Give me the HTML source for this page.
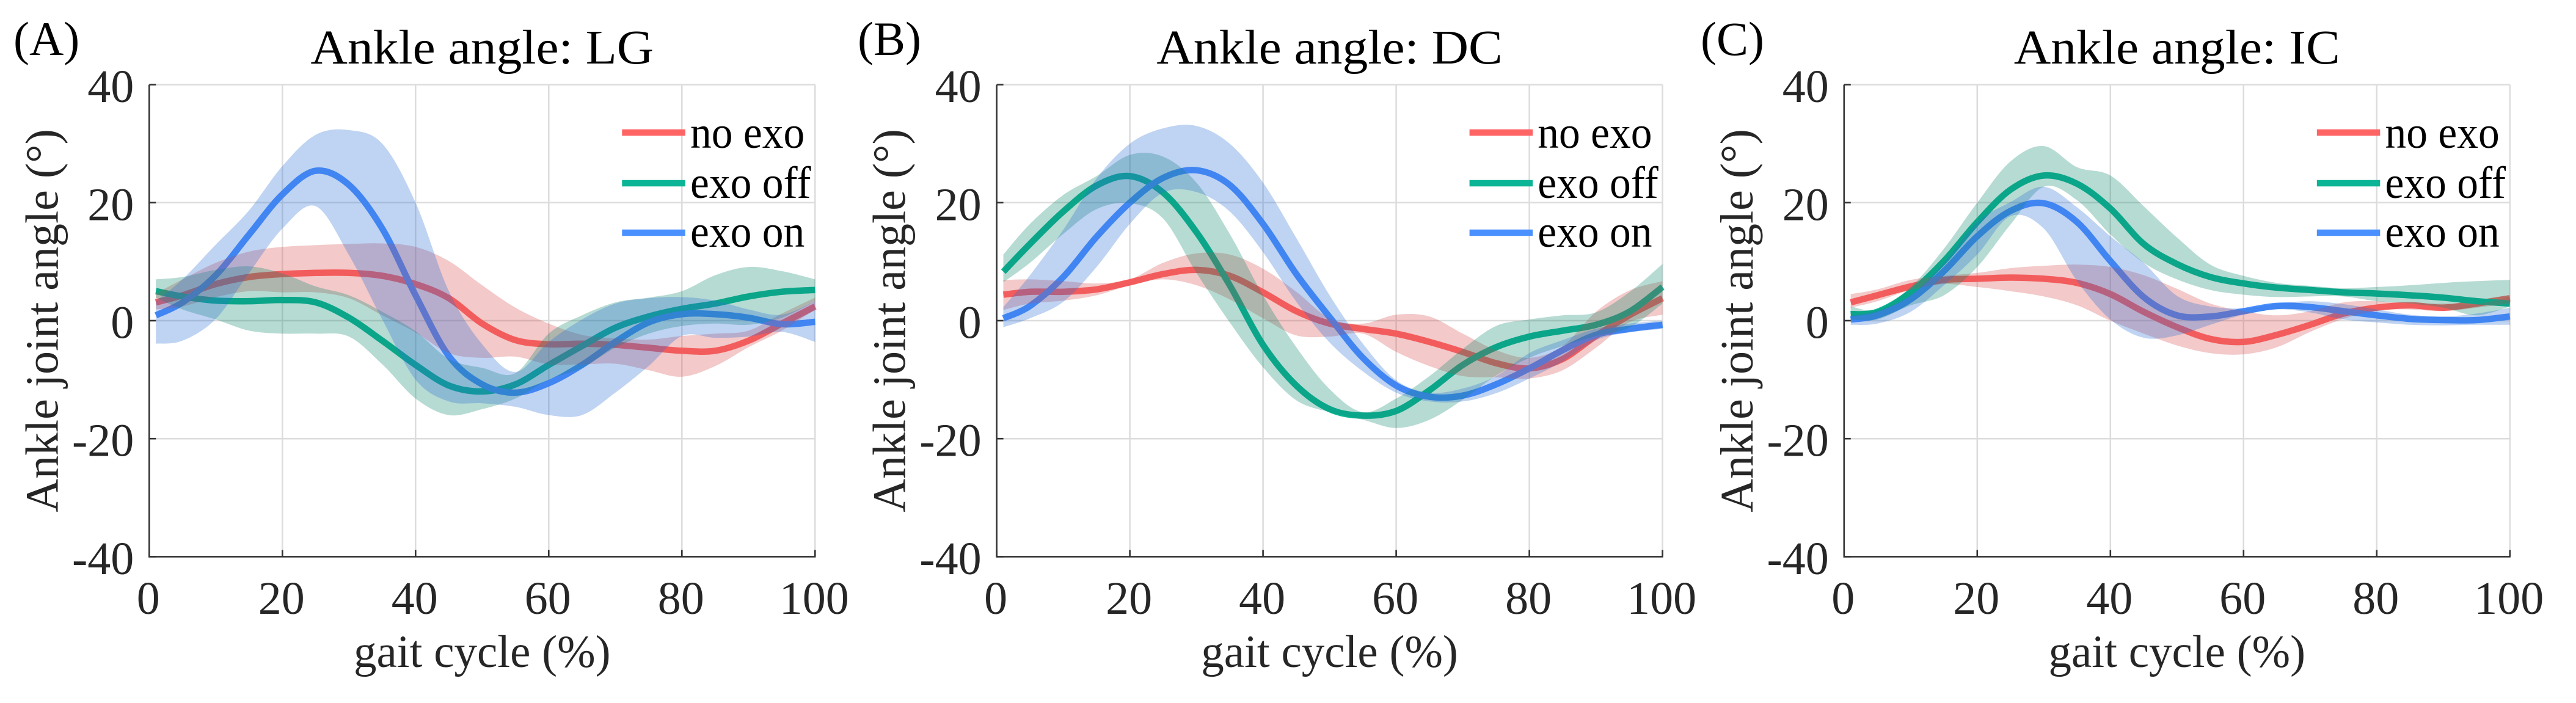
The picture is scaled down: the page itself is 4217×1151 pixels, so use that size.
<!DOCTYPE html>
<html lang="en">
<head>
<meta charset="utf-8">
<title>Ankle angle across gait cycle</title>
<style>
html,body{margin:0;padding:0;background:#fff;}
#figure{display:block;width:4217px;height:1151px;font-family:"Liberation Serif","DejaVu Serif",serif;}
</style>
</head>
<body>
<svg id="figure" xmlns="http://www.w3.org/2000/svg" width="4217" height="1151" viewBox="0 0 4217 1151"></svg>
<script>
// ---------- shared axis data ----------
const gaitPercent = [1,5,10,15,20,25,30,35,40,45,50,55,60,65,70,75,80,85,90,95,100];
const xTickValues = [0,20,40,60,80,100];
const yTickValues = [40,20,0,-20,-40];
const seriesNames = ['no exo','exo off','exo on'];

// ---------- panel A: LG ----------
const lgNoExoMean  = [3.1,4.3,6.2,7.4,7.9,8.1,8.1,7.6,6.2,3.8,-0.5,-3.3,-4,-3.9,-4.1,-4.6,-5.1,-5.1,-3.4,-0.5,2.4];
const lgNoExoUpper = [4.6,7,9.8,11.7,12.5,12.8,13,13.1,12.5,10.1,6,2.2,-0.5,-2.4,-3,-3.2,-2.6,-2.2,-1.7,1.2,3.9];
const lgNoExoLower = [1.9,2.4,4,5,4.8,4.8,3.8,0.9,-2,-5.5,-6.3,-6.1,-7.4,-7.4,-7.3,-8.4,-9.5,-7.7,-4.5,-1.7,1.9];
const lgOffMean    = [5,4.1,3.4,3.3,3.5,3.1,0.5,-3.4,-7.5,-11,-12,-10.8,-7.5,-4.3,-1.2,0.7,2,2.9,4.1,4.9,5.2];
const lgOffUpper   = [7,7.4,8.6,9.2,8,5.8,4.3,1.5,-1.8,-6.5,-8,-8.9,-2.2,0.9,3.1,3.9,5,7.7,9.1,8.4,7];
const lgOffLower   = [3.9,1.9,0.2,-1.7,-2.2,-2.2,-2.7,-7.4,-13.2,-16,-15,-13.2,-10,-8,-4.6,-2.2,-0.9,-0.5,-0.7,0.5,3.3];
const lgOnMean     = [0.9,3.1,7.7,14.6,21.4,25.4,23,15.6,4.3,-6,-10.8,-12.2,-10.6,-7.5,-3.6,-0.3,1.1,1.1,0.5,-0.6,-0.2];
const lgOnUpper    = [3.3,7,12.9,18.7,26.2,31.5,32.3,30,20,5,-4,-8.7,-3.6,0.2,2.9,3.8,4,3.4,1.9,1,3.3];
const lgOnLower    = [-3.9,-3.4,0.3,8.1,15.6,19.4,11.1,0.2,-10,-13.7,-14,-14.6,-16,-16,-12.2,-7.7,-2.6,-2.9,-2.7,-1.9,-3.6];

// ---------- panel B: DC ----------
const dcNoExoMean  = [4.4,4.9,4.9,5.3,6.5,7.9,8.6,7.6,4.8,1.6,-0.5,-1.4,-2.2,-3.6,-5.3,-7.2,-8.1,-6.5,-2.6,0.9,3.8];
const dcNoExoUpper = [6.9,7,6.7,6.3,7,9.8,11.4,11.2,8.8,4.9,0.4,-0.5,1,0.7,-2.2,-5,-6.3,-4.3,1.5,5.1,6.7];
const dcNoExoLower = [1.8,2.9,3.4,4.3,6,7,6,3.6,0.4,-2.5,-2.7,-2.2,-5.3,-7.7,-9.4,-9.6,-9.8,-8.4,-4.6,-0.3,1];
const dcOffMean    = [8.3,13,18.5,22.9,24.5,21.7,15,6,-4.1,-11,-15,-16.1,-15.3,-11.8,-7.5,-4.5,-2.7,-1.7,-0.7,1.5,5.7];
const dcOffUpper   = [11.2,16.4,21.3,24.5,28.1,27.8,23.4,14.7,4.3,-4.5,-11.6,-15.5,-13.2,-9.4,-4.8,-0.9,0.2,0.9,1.4,4.8,9.6];
const dcOffLower   = [6.5,9.8,14.7,18.9,19.9,17.3,8.1,-0.3,-7.9,-13.5,-15.5,-16.8,-18.2,-16.8,-13.4,-9.3,-6.3,-4.3,-2.6,-1.2,2.9];
const dcOnMean     = [0.4,2.5,7.4,14.2,20,24.2,25.5,23,16.4,7.9,0.6,-6.3,-11,-12.9,-12.7,-10.8,-8.1,-5,-2.4,-1.4,-0.7];
const dcOnUpper    = [2.3,7.7,15.4,24.1,30,32.6,33,30,23.4,14,4.3,-3.9,-10.1,-12.2,-11.5,-9.4,-5.5,-3.3,-1.4,-0.5,0];
const dcOnLower    = [-1.1,0.4,3.2,9.1,16.4,21.7,21.8,18.5,11.6,3.2,-3.7,-8.6,-12.2,-13.7,-13.7,-12.3,-9.8,-6.9,-3.3,-2,-1.4];

// ---------- panel C: IC ----------
const icNoExoMean  = [3.1,4.3,5.8,6.9,7.1,7.3,7.1,6.4,4.5,1.5,-1.1,-3.1,-3.6,-2.4,-0.7,1.2,2.2,2.6,2.2,2.9,3.8];
const icNoExoUpper = [4.5,5.3,6.9,7.6,8.1,8.9,9.3,9.5,9.1,7.7,5.4,2.9,1.6,0.9,1.6,3.1,3.3,2.9,2.9,2.8,4.1];
const icNoExoLower = [2.2,3.3,5.2,6.2,5.7,5,4.1,2.6,0,-2.2,-4.2,-5.5,-5.7,-4.5,-1.9,0.3,1.7,1.9,1.6,2.2,2.9];
const icOffMean    = [1.1,1.5,4.8,10.1,16.7,22.2,24.6,23.2,19,13,9.6,7.4,6.3,5.6,5.2,4.8,4.6,4.3,3.9,3.3,2.9];
const icOffUpper   = [2.4,1.9,5.7,12.2,20,27,29.6,26,24.6,19.4,14.1,9.5,7.6,6.4,5.9,5.5,5.7,6,6.4,6.7,6.9];
const icOffLower   = [0.2,0.2,2.6,4.3,9.1,16.3,22.7,20.4,14.6,9.8,7,5.2,4.4,4,4.1,4.1,3.3,2.9,2.2,0.9,2.4];
const icOnMean     = [0.2,0.9,3.6,8.4,14.3,18.6,19.9,16.7,10.1,4,0.9,0.7,1.6,2.5,2.3,1.6,0.9,0.3,0.1,0.1,0.7];
const icOnUpper    = [0.9,1.7,4.3,9.8,16.7,20.1,22.7,19.2,14.3,9.8,4.2,2.4,2.1,2.9,3.3,2.8,1.9,1,0.7,1.2,2.2];
const icOnLower    = [-0.7,-0.5,1.5,6,11.2,17.7,15.6,6.7,0.2,-2.9,-2.5,-0.7,1,1.9,1.4,0.2,-0.3,-0.7,-0.8,-0.7,-0.7];

// ---------- layout and style ----------
const SVG_NS = 'http://www.w3.org/2000/svg';
const figure = document.getElementById('figure');
const plotWidth = 1090, yZero = 525, yUnit = 9.66;
const plotTop = yZero - 40 * yUnit, plotBottom = yZero + 40 * yUnit;
const lineColors = ['#ff6464','#0bb495','#4a90ff'];
const fillColors = ['#d74b4b','#0c876c','#2a6cd4'];
const fillAlpha = 0.3;
const legendYs = [217,300,381];
const legendBaselines = [242,324,404];

const panels = [
  {id:'lg', tag:'(A)', tagX:22, title:'Ankle angle: LG', left:244.3,
   mean:[lgNoExoMean,lgOffMean,lgOnMean], upper:[lgNoExoUpper,lgOffUpper,lgOnUpper], lower:[lgNoExoLower,lgOffLower,lgOnLower]},
  {id:'dc', tag:'(B)', tagX:1404, title:'Ankle angle: DC', left:1631.6,
   mean:[dcNoExoMean,dcOffMean,dcOnMean], upper:[dcNoExoUpper,dcOffUpper,dcOnUpper], lower:[dcNoExoLower,dcOffLower,dcOnLower]},
  {id:'ic', tag:'(C)', tagX:2784, title:'Ankle angle: IC', left:3018.8,
   mean:[icNoExoMean,icOffMean,icOnMean], upper:[icNoExoUpper,icOffUpper,icOnUpper], lower:[icNoExoLower,icOffLower,icOnLower]}
];

function make(tag, parent, attrs) {
  const el = document.createElementNS(SVG_NS, tag);
  for (const k in attrs) el.setAttribute(k, attrs[k]);
  parent.appendChild(el);
  return el;
}
function slug(s) { return s.replace(/\s+/g, '-'); }

// Smooth path through the sampled points (Catmull-Rom converted to cubic Bezier).
function curveSegments(pts) {
  let d = '';
  for (let i = 0; i < pts.length - 1; i++) {
    const p0 = pts[Math.max(i - 1, 0)], p1 = pts[i], p2 = pts[i + 1], p3 = pts[Math.min(i + 2, pts.length - 1)];
    const c1x = p1[0] + (p2[0] - p0[0]) / 6, c1y = p1[1] + (p2[1] - p0[1]) / 6;
    const c2x = p2[0] - (p3[0] - p1[0]) / 6, c2y = p2[1] - (p3[1] - p1[1]) / 6;
    d += 'C' + c1x.toFixed(1) + ' ' + c1y.toFixed(1) + ' ' + c2x.toFixed(1) + ' ' + c2y.toFixed(1) + ' ' + p2[0].toFixed(1) + ' ' + p2[1].toFixed(1);
  }
  return d;
}

panels.forEach(function (panel) {
  const xScale = function (p) { return panel.left + p / 100 * plotWidth; };
  const yScale = function (v) { return yZero - v * yUnit; };
  const points = function (values) { return gaitPercent.map(function (p, i) { return [xScale(p), yScale(values[i])]; }); };

  const g = make('g', figure, {});
  
  

  const tag = make('text', g, {x: panel.tagX, y: 90, 'font-size': 78, fill: '#000'});
  tag.textContent = panel.tag;
  
  

  const title = make('text', g, {x: 0, y: 0, 'font-size': 80, fill: '#000', 'text-anchor': 'middle', transform: 'translate(' + xScale(50) + ' 104) scale(1.045 1)'});
  title.textContent = panel.title;
  
  

  // grid
  yTickValues.slice(0, 4).forEach(function (v) {
    const line = make('line', g, {x1: panel.left, x2: xScale(100), y1: yScale(v), y2: yScale(v), stroke: '#dcdcdc', 'stroke-width': 2.5});
    
    
  });
  xTickValues.slice(1).forEach(function (v) {
    const line = make('line', g, {x1: xScale(v), x2: xScale(v), y1: plotTop, y2: plotBottom, stroke: '#dcdcdc', 'stroke-width': 2.5});
    
    
  });

  // mean curves (drawn first: the translucent bands overlay them)
  panel.mean.forEach(function (values, s) {
    const pts = points(values);
    const path = make('path', g, {d: 'M' + pts[0][0].toFixed(1) + ' ' + pts[0][1].toFixed(1) + curveSegments(pts), fill: 'none', stroke: lineColors[s], 'stroke-width': 10.5});
    
    
  });

  // bands
  panel.upper.forEach(function (values, s) {
    const up = points(values);
    const low = points(panel.lower[s]).reverse();
    const d = 'M' + up[0][0].toFixed(1) + ' ' + up[0][1].toFixed(1) + curveSegments(up) +
      'L' + low[0][0].toFixed(1) + ' ' + low[0][1].toFixed(1) + curveSegments(low) + 'Z';
    const band = make('path', g, {d: d, fill: fillColors[s], 'fill-opacity': fillAlpha, stroke: 'none'});
    
    
  });

  // axes
  const yAxis = make('line', g, {x1: panel.left, x2: panel.left, y1: plotTop, y2: plotBottom + 1.2, stroke: '#333', 'stroke-width': 2.6});
  
  
  const xAxis = make('line', g, {x1: panel.left - 1.2, x2: xScale(100) + 1, y1: plotBottom, y2: plotBottom, stroke: '#333', 'stroke-width': 2.6});
  
  

  yTickValues.forEach(function (v) {
    const tick = make('line', g, {x1: panel.left, x2: panel.left + 11, y1: yScale(v), y2: yScale(v), stroke: '#333', 'stroke-width': 2.6});
    
    
    const label = make('text', g, {x: panel.left - 25, y: yScale(v) + 28.5, 'font-size': 76, fill: '#262626', 'text-anchor': 'end'});
    label.textContent = String(v);
    
    
  });
  xTickValues.forEach(function (v) {
    const tick = make('line', g, {x1: xScale(v), x2: xScale(v), y1: plotBottom, y2: plotBottom - 11, stroke: '#333', 'stroke-width': 2.6});
    
    
    const label = make('text', g, {x: xScale(v) - 1.5, y: 1005, 'font-size': 76, fill: '#262626', 'text-anchor': 'middle'});
    label.textContent = String(v);
    
    
  });

  const xTitle = make('text', g, {x: xScale(50), y: 1092, 'font-size': 75, fill: '#262626', 'text-anchor': 'middle'});
  xTitle.textContent = 'gait cycle (%)';
  
  

  const yTitleX = panel.left - 150;
  const yTitle = make('text', g, {x: yTitleX, y: 525, 'font-size': 76, fill: '#262626', 'text-anchor': 'middle', transform: 'rotate(-90 ' + yTitleX + ' 525)'});
  yTitle.textContent = 'Ankle joint angle (°)';
  
  

  // legend
  const legend = make('g', g, {});
  
  
  seriesNames.forEach(function (name, s) {
    const key = make('line', legend, {x1: panel.left + 774, x2: panel.left + 877.5, y1: legendYs[s], y2: legendYs[s], stroke: lineColors[s], 'stroke-width': 10.5});
    
    
    const text = make('text', legend, {x: 0, y: 0, 'font-size': 69.5, fill: '#000', transform: 'translate(' + (panel.left + 885.7) + ' ' + legendBaselines[s] + ') scale(1 1.07)'});
    text.textContent = name;
    
    
  });
});
</script>
</body>
</html>
